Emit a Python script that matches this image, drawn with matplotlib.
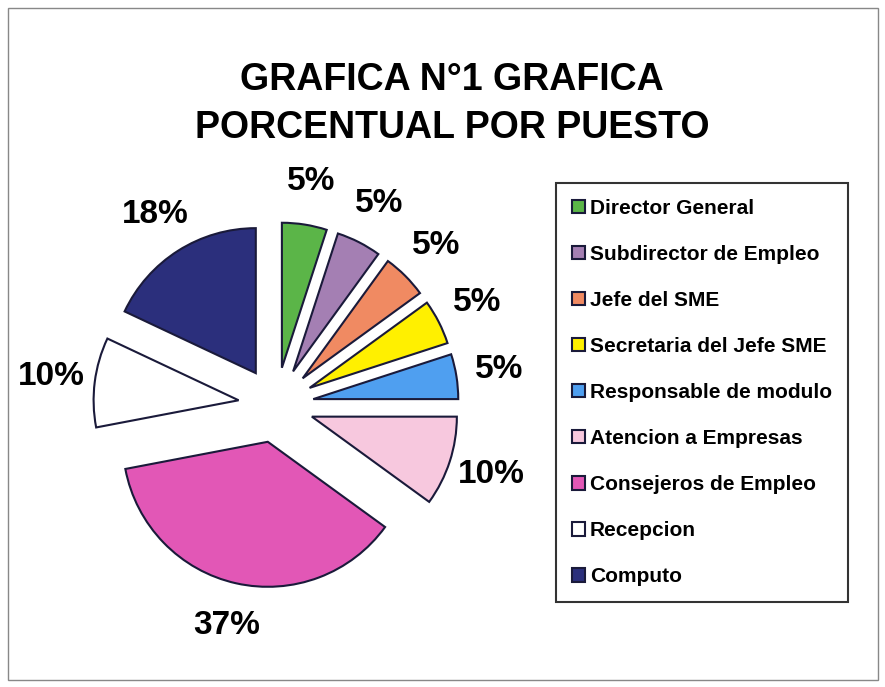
import matplotlib.pyplot as plt
from matplotlib.patches import Rectangle

puestos = ['Director General', 'Subdirector de Empleo', 'Jefe del SME',
           'Secretaria del Jefe SME', 'Responsable de modulo',
           'Atencion a Empresas', 'Consejeros de Empleo', 'Recepcion', 'Computo']
porcentajes = [5, 5, 5, 5, 5, 10, 37, 10, 18]
colores = ['#5bb548', '#a47fb3', '#f08a62', '#fff000', '#4f9ff0',
           '#f7c8de', '#e257b6', '#ffffff', '#2b2f7c']

plt.rcParams['font.family'] = ['Liberation Sans', 'DejaVu Sans']

fig = plt.figure(figsize=(8.85, 6.87), dpi=100)
fig.patch.set_facecolor('white')

# marco gris alrededor de todo
fig.patches.append(Rectangle((8 / 885, 1 - 680 / 687), 870 / 885, 672 / 687,
                             transform=fig.transFigure, fill=False,
                             edgecolor='#888888', linewidth=1.0))

# titulo en dos lineas
fig.text(452 / 885, 1 - 80 / 687, 'GRAFICA N°1 GRAFICA', ha='center', va='center',
         fontsize=27, fontweight='bold')
fig.text(452 / 885, 1 - 128 / 687, 'PORCENTUAL POR PUESTO', ha='center', va='center',
         fontsize=27, fontweight='bold')

# pastel separado
cx, cy, half = 276, 687 - 405, 232
ax = fig.add_axes([(cx - half) / 885, (cy - half) / 687, 2 * half / 885, 2 * half / 687])
wedges, textos, pcts = ax.pie(porcentajes, colors=colores, startangle=90, counterclock=False,
                              explode=[0.26] * len(porcentajes), autopct='%1.0f%%',
                              pctdistance=1.3,
                              wedgeprops=dict(edgecolor='#1a1a3a', linewidth=1.5))
for t in pcts:
    t.set_fontsize(24)
    t.set_fontweight('bold')
ax.set_xlim(-1.6, 1.6)
ax.set_ylim(-1.6, 1.6)

# leyenda
leg = fig.legend(wedges, puestos, loc='upper left',
                 bbox_to_anchor=(556 / 885, 1 - 183 / 687),
                 prop=dict(size=15, weight='bold'), frameon=True, fancybox=False,
                 handlelength=0.62, handleheight=0.62, handletextpad=0.25,
                 labelspacing=1.3, borderpad=0.75, borderaxespad=0)
leg.get_frame().set_edgecolor('black')
leg.get_frame().set_linewidth(1.5)

fig.savefig('out.png', dpi=100)
